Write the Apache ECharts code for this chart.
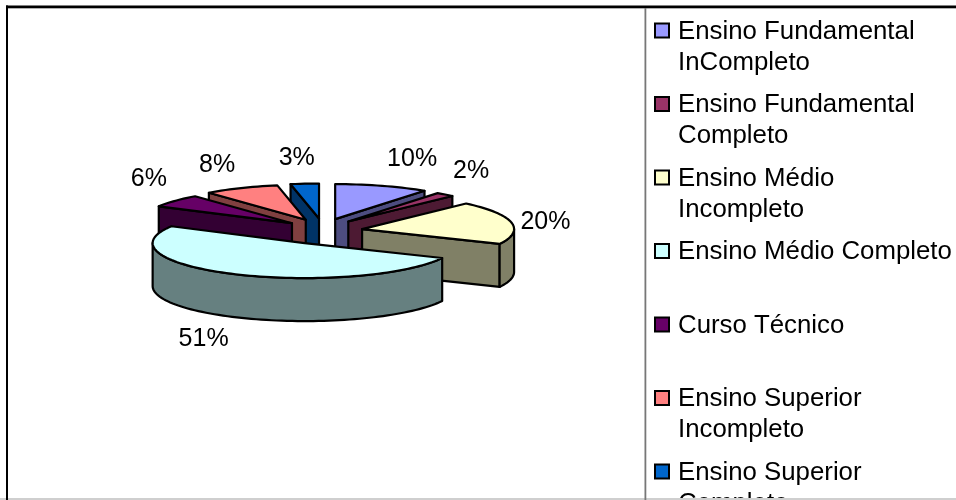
<!DOCTYPE html>
<html>
<head>
<meta charset="utf-8">
<style>html,body{margin:0;padding:0;background:#fff}#chart{width:956px;height:500px}</style>
<script src="https://cdn.jsdelivr.net/npm/echarts@6/dist/echarts.min.js"></script>
</head>
<body>
<div id="chart"></div>
<script>
// Escolaridade: share of respondents per schooling level, in percent
const categories = [
  'Ensino Fundamental\nInCompleto',
  'Ensino Fundamental\nCompleto',
  'Ensino Médio\nIncompleto',
  'Ensino Médio Completo',
  'Curso Técnico',
  'Ensino Superior\nIncompleto',
  'Ensino Superior\nCompleto'
];
const shares = [10, 2, 20, 51, 6, 8, 3];
const topColors = ['#9999FF', '#993366', '#FFFFCC', '#CCFFFF', '#660066', '#FF8080', '#0066CC'];
const sideColors = ['#4D4D80', '#4D1A33', '#808066', '#668080', '#330033', '#804040', '#003366'];

// Back slices are painted first so the nearer ones overlap them
const paintOrder = [6, 5, 4, 0, 1, 2, 3];

// Projected pie geometry
const pie = { cx: 322.8, cy: 231.5, rx: 152, ry: 35, depth: 43, explodeX: 40, explodeY: 13 };
// Where each percentage sits relative to the rim point at the slice's middle angle
const labelOffsets = [[30, -26.5], [26, -23.5], [34, -0.5], [-32, 65], [-26, -22], [-24, -22.5], [-8, -25.5]];

const FONT = '"Liberation Sans", Arial, sans-serif';
const LABEL_SIZE = 25;
const LEGEND_SIZE = 25.8;
const EDGE = { stroke: '#000', lineWidth: 2.2, lineJoin: 'round' };

const total = shares.reduce((a, b) => a + b, 0);
const rad = d => d * Math.PI / 180;

// Start and end angles, clockwise from twelve o'clock
const spans = [];
shares.reduce((acc, v, i) => {
  spans[i] = [acc / total * 360, (acc + v) / total * 360];
  return acc + v;
}, 0);

function sliceGeometry(i) {
  const [a0, a1] = spans[i];
  const mid = rad((a0 + a1) / 2);
  const ax = pie.cx + pie.explodeX * Math.sin(mid);
  const ay = pie.cy - pie.explodeY * Math.cos(mid);
  const rim = a => [ax + pie.rx * Math.sin(rad(a)), ay - pie.ry * Math.cos(rad(a))];
  const arc = (from, to) => {
    const pts = [];
    const n = Math.max(2, Math.ceil((to - from) / 2));
    for (let k = 0; k <= n; k++) pts.push(rim(from + (to - from) * k / n));
    return pts;
  };
  return { a0, a1, mid, ax, ay, rim, arc };
}

const drop = p => [p[0], p[1] + pie.depth];

function renderSlice(params, api) {
  const i = api.value(0);
  const g = sliceGeometry(i);
  const apex = [g.ax, g.ay];
  const face = (a, b) => ({
    type: 'polygon',
    shape: { points: [a, b, drop(b), drop(a)] },
    style: { fill: sideColors[i], ...EDGE }
  });
  const children = [];
  // A cut face is only visible when it turns toward the viewer
  if (g.a0 > 180) children.push(face(apex, g.rim(g.a0)));
  if (g.a1 < 180) children.push(face(apex, g.rim(g.a1)));
  // The outer wall only shows on the near half of the rim
  const w0 = Math.max(g.a0, 90), w1 = Math.min(g.a1, 270);
  if (w1 > w0) {
    const top = g.arc(w0, w1);
    children.push({
      type: 'polygon',
      shape: { points: top.concat(top.map(drop).reverse()) },
      style: { fill: sideColors[i], ...EDGE }
    });
  }
  children.push({
    type: 'polygon',
    shape: { points: [apex].concat(g.arc(g.a0, g.a1)) },
    style: { fill: topColors[i], ...EDGE }
  });
  const r = g.rim((g.a0 + g.a1) / 2);
  children.push({
    type: 'text',
    style: {
      x: r[0] + labelOffsets[i][0],
      y: r[1] + labelOffsets[i][1],
      text: Math.round(shares[i] / total * 100) + '%',
      font: LABEL_SIZE + 'px ' + FONT,
      fill: '#000',
      align: 'center',
      verticalAlign: 'middle'
    },
    z2: 50
  });
  return { type: 'group', children };
}

// Legend block, one entry every 73.5 px down the right-hand panel
const legendLayout = { swatchX: 655, swatchSize: 14, textX: 678, firstY: 30.5, textShift: 1, pitch: 73.5, lineHeight: 31 };

function renderLegendEntry(params, api) {
  const i = api.value(0);
  const y = legendLayout.firstY + i * legendLayout.pitch;
  return {
    type: 'group',
    children: [
      {
        type: 'rect',
        shape: {
          x: legendLayout.swatchX,
          y: y - legendLayout.swatchSize / 2,
          width: legendLayout.swatchSize,
          height: legendLayout.swatchSize
        },
        style: { fill: topColors[i], stroke: '#000', lineWidth: 2 }
      },
      {
        type: 'text',
        style: {
          x: legendLayout.textX,
          y: y + legendLayout.textShift - legendLayout.lineHeight / 2,
          text: categories[i],
          font: LEGEND_SIZE + 'px ' + FONT,
          lineHeight: legendLayout.lineHeight,
          fill: '#000',
          align: 'left',
          verticalAlign: 'top'
        }
      }
    ]
  };
}

const chart = echarts.init(document.getElementById('chart'), null, { renderer: 'canvas' });
chart.setOption({
  animation: false,
  backgroundColor: '#fff',
  series: [
    {
      type: 'custom',
      coordinateSystem: 'none',
      silent: true,
      clip: false,
      renderItem: renderSlice,
      data: paintOrder.map(i => ({ value: [i, shares[i]], name: categories[i] }))
    },
    {
      type: 'custom',
      coordinateSystem: 'none',
      silent: true,
      clip: false,
      renderItem: renderLegendEntry,
      data: categories.map((c, i) => ({ value: [i], name: c }))
    }
  ],
  graphic: [
    // Chart-area frame, panel divider and the bottom cut-off strip
    { type: 'rect', z: 100, shape: { x: 0, y: 498, width: 956, height: 2 }, style: { fill: '#cfcfcf' } },
    { type: 'rect', z: 101, shape: { x: 8, y: 8, width: 948, height: 1 }, style: { fill: '#b0b0b0' } },
    { type: 'rect', z: 102, shape: { x: 6, y: 5.5, width: 950, height: 2.5 }, style: { fill: '#000' } },
    { type: 'rect', z: 102, shape: { x: 6, y: 5.5, width: 2, height: 494.5 }, style: { fill: '#000' } },
    { type: 'rect', z: 101, shape: { x: 644.5, y: 8, width: 1.8, height: 492 }, style: { fill: '#777' } }
  ]
});
</script>
</body>
</html>
